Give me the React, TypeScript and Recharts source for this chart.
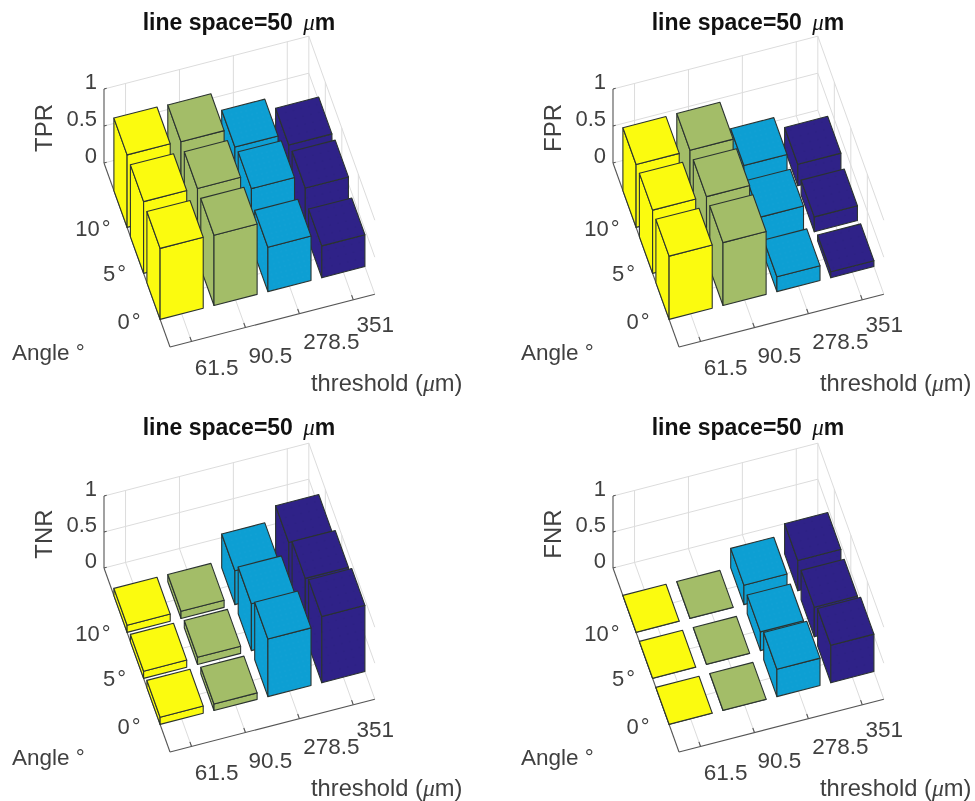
import { ScatterChart, Scatter, XAxis, YAxis, ReferenceLine } from 'recharts'

// Values, one row per angle (0, 5, 10 deg), one column per threshold
const thresholds = ['61.5', '90.5', '278.5', '351']
const angles = ['0°', '5°', '10°']
const zTicks = [0, 0.5, 1]

const tprValues = [
  [0.96, 0.95, 0.6, 0.43],
  [0.97, 0.96, 0.77, 0.59],
  [0.98, 0.97, 0.71, 0.55],
]
const fprValues = [
  [0.855, 0.85, 0.2, 0.08],
  [0.855, 0.85, 0.385, 0.2],
  [0.85, 0.855, 0.46, 0.29],
]
const tnrValues = [
  [0.1, 0.09, 0.8, 0.92],
  [0.1, 0.1, 0.65, 0.81],
  [0.1, 0.1, 0.47, 0.67],
]
const fnrValues = [
  [0.003, 0.003, 0.38, 0.52],
  [0.003, 0.003, 0.26, 0.41],
  [0.003, 0.003, 0.27, 0.42],
]

const barColors = ['#fbfb0f', '#a3bd68', '#0d9fd3', '#2f2288']
const stipples = ['none', 'none', 'url(#dotsCyan)', 'url(#dotsNavy)']

const PANEL_W = 466
const PANEL_H = 396
const BAR = 0.8
const U_MIN = 0.6
const U_MAX = 4.4
const V_MAX = 4
const U_VEC = [53.9, -13.9]
const V_VEC = [-16.5, -46]
const ORIGIN = [170, 347]
const TEXT = '#404040'
const SANS = '"Liberation Sans", Arial, sans-serif'

// axonometric view of the MATLAB bar3 box
const project = (u: number, v: number, z: number, zUnit: number) => ({
  x: ORIGIN[0] + (u - U_MIN) * U_VEC[0] + v * V_VEC[0],
  y: ORIGIN[1] + (u - U_MIN) * U_VEC[1] + v * V_VEC[1] - z * zUnit,
})

function BarBox(props: any) {
  const { cx, cy, payload } = props
  const h = payload.value * payload.zUnit
  const w = [U_VEC[0] * BAR, U_VEC[1] * BAR]
  const d = [V_VEC[0] * BAR, V_VEC[1] * BAR]
  const pt = (a: number, b: number, c: number) =>
    `${cx + a * w[0] + b * d[0]},${cy + a * w[1] + b * d[1] - c * h}`
  const faces = [
    [pt(0, 0, 0), pt(0, 1, 0), pt(0, 1, 1), pt(0, 0, 1)],
    [pt(0, 0, 0), pt(1, 0, 0), pt(1, 0, 1), pt(0, 0, 1)],
    [pt(0, 0, 1), pt(1, 0, 1), pt(1, 1, 1), pt(0, 1, 1)],
  ]
  return (
    <g>
      {faces.map((f, i) => (
        <g key={i}>
          <polygon points={f.join(' ')} fill={payload.color} stroke="none" />
          <polygon points={f.join(' ')} fill={payload.stipple} stroke="#2b3330" strokeWidth={1.1} strokeLinejoin="round" />
        </g>
      ))}
    </g>
  )
}

function Label(props: any) {
  const { cx, cy, payload } = props
  const parts = payload.text.split('μ')
  const deg = payload.text.endsWith('°') && payload.text.length < 4
  return (
    <text
      x={cx}
      y={cy}
      fill={payload.bold ? '#111' : TEXT}
      fontFamily={SANS}
      fontSize={payload.size}
      fontWeight={payload.bold ? 700 : 400}
      textAnchor={payload.anchor}
      dominantBaseline="central"
      transform={payload.rotate ? `rotate(-90 ${cx} ${cy})` : undefined}
    >
      {deg ? payload.text.slice(0, -1) : parts[0]}
      {deg && <tspan dx={2}>°</tspan>}
      {parts.length > 1 && (
        <tspan fontFamily='"Liberation Serif", serif' fontStyle="italic" fontWeight={400} dx={payload.bold ? 4 : 0}>μ</tspan>
      )}
      {parts[1]}
    </text>
  )
}

function Panel({ name, values, zUnit, left, top }: any) {
  const p = (u: number, v: number, z: number) => project(u, v, z, zUnit)

  const bars: any[] = []
  for (let row = angles.length - 1; row >= 0; row--) {
    for (let col = thresholds.length - 1; col >= 0; col--) {
      bars.push({
        ...p(col + 1 - BAR / 2, row + 1 - BAR / 2, 0),
        value: values[row][col],
        zUnit,
        color: barColors[col],
        stipple: stipples[col],
      })
    }
  }

  const uTicks = thresholds.map((_, i) => i + 1)
  const vTicks = angles.map((_, i) => i + 1)

  const grid = [
    ...uTicks.map(u => [p(u, 0, 0), p(u, V_MAX, 0)]),
    ...vTicks.map(v => [p(U_MIN, v, 0), p(U_MAX, v, 0)]),
    ...uTicks.map(u => [p(u, V_MAX, 0), p(u, V_MAX, 1)]),
    ...vTicks.map(v => [p(U_MAX, v, 0), p(U_MAX, v, 1)]),
    ...zTicks.map(z => [p(U_MIN, V_MAX, z), p(U_MAX, V_MAX, z)]),
    ...zTicks.map(z => [p(U_MAX, V_MAX, z), p(U_MAX, 0, z)]),
    [p(U_MAX, V_MAX, 0), p(U_MAX, V_MAX, 1)],
  ]
  const axes = [
    [p(U_MIN, V_MAX, 0), p(U_MIN, V_MAX, 1)],
    [p(U_MIN, V_MAX, 0), p(U_MIN, 0, 0)],
    [p(U_MIN, 0, 0), p(U_MAX, 0, 0)],
    ...uTicks.map(u => [p(u, 0, 0), p(u, 0.1, 0)]),
    ...vTicks.map(v => [p(U_MIN, v, 0), p(U_MIN + 0.1, v, 0)]),
    ...zTicks.map(z => [p(U_MIN, V_MAX, z), p(U_MIN + 0.05, V_MAX, z)]),
  ]

  const xOffsets = [[25, 26], [25, 28], [32, 28], [22, 25]]
  const vOffsets = [[-13, 20], [-11, 18], [-10, 19]]
  const corner = p(U_MIN, 0, 0)
  const labels = [
    { x: 239, y: 22, text: 'line space=50 μm', size: 23, bold: true, anchor: 'middle' },
    { x: 43, y: p(U_MIN, V_MAX, 0.5).y + 2, text: name, size: 24, anchor: 'middle', rotate: true },
    ...zTicks.map(z => {
      const t = p(U_MIN, V_MAX, z)
      return { x: t.x - 7, y: t.y - 8, text: String(z), size: 22, anchor: 'end' }
    }),
    ...thresholds.map((text, i) => {
      const t = p(i + 1, 0, 0)
      return { x: t.x + xOffsets[i][0], y: t.y + xOffsets[i][1], text, size: 22.5, anchor: 'middle' }
    }),
    ...angles.map((text, i) => {
      const t = p(U_MIN, i + 1, 0)
      return { x: t.x + vOffsets[i][0], y: t.y + vOffsets[i][1], text, size: 22, anchor: 'end' }
    }),
    { x: corner.x - 158, y: corner.y + 5, text: 'Angle  °', size: 22.5, anchor: 'start' },
    { x: corner.x + 141, y: corner.y + 36, text: 'threshold (μm)', size: 23.7, anchor: 'start' },
  ]

  return (
    <div style={{ position: 'absolute', left, top }}>
      <ScatterChart width={PANEL_W} height={PANEL_H} margin={{ top: 0, right: 0, bottom: 0, left: 0 }}>
        <defs>
          <pattern id="dotsNavy" width="8" height="8" patternUnits="userSpaceOnUse" patternTransform="rotate(-14)">
            <circle cx="2" cy="2" r="0.5" fill="#241a74" />
          </pattern>
          <pattern id="dotsCyan" width="5" height="5" patternUnits="userSpaceOnUse" patternTransform="rotate(-14)">
            <circle cx="2" cy="2" r="0.4" fill="#2aa8d8" />
          </pattern>
        </defs>
        <XAxis type="number" dataKey="x" domain={[0, PANEL_W]} hide />
        <YAxis type="number" dataKey="y" domain={[0, PANEL_H]} reversed hide />
        {grid.map((s, i) => (
          <ReferenceLine key={`g${i}`} segment={s} stroke="#dcdcdc" strokeWidth={1} ifOverflow="visible" />
        ))}
        {axes.map((s, i) => (
          <ReferenceLine key={`a${i}`} segment={s} stroke="#555" strokeWidth={1.1} ifOverflow="visible" />
        ))}
        <Scatter data={bars} shape={BarBox} isAnimationActive={false} />
        <Scatter data={labels} shape={Label} isAnimationActive={false} />
      </ScatterChart>
    </div>
  )
}

export default function App() {
  return (
    <div style={{ position: 'absolute', left: 0, top: 0, width: 975, height: 801, background: '#fff', overflow: 'hidden', filter: 'blur(0.5px)' }}>
      <Panel name="TPR" values={tprValues} zUnit={74} left={0} top={0} />
      <Panel name="FPR" values={fprValues} zUnit={74} left={509} top={0} />
      <Panel name="TNR" values={tnrValues} zUnit={72} left={0} top={405} />
      <Panel name="FNR" values={fnrValues} zUnit={72} left={509} top={405} />
    </div>
  )
}
